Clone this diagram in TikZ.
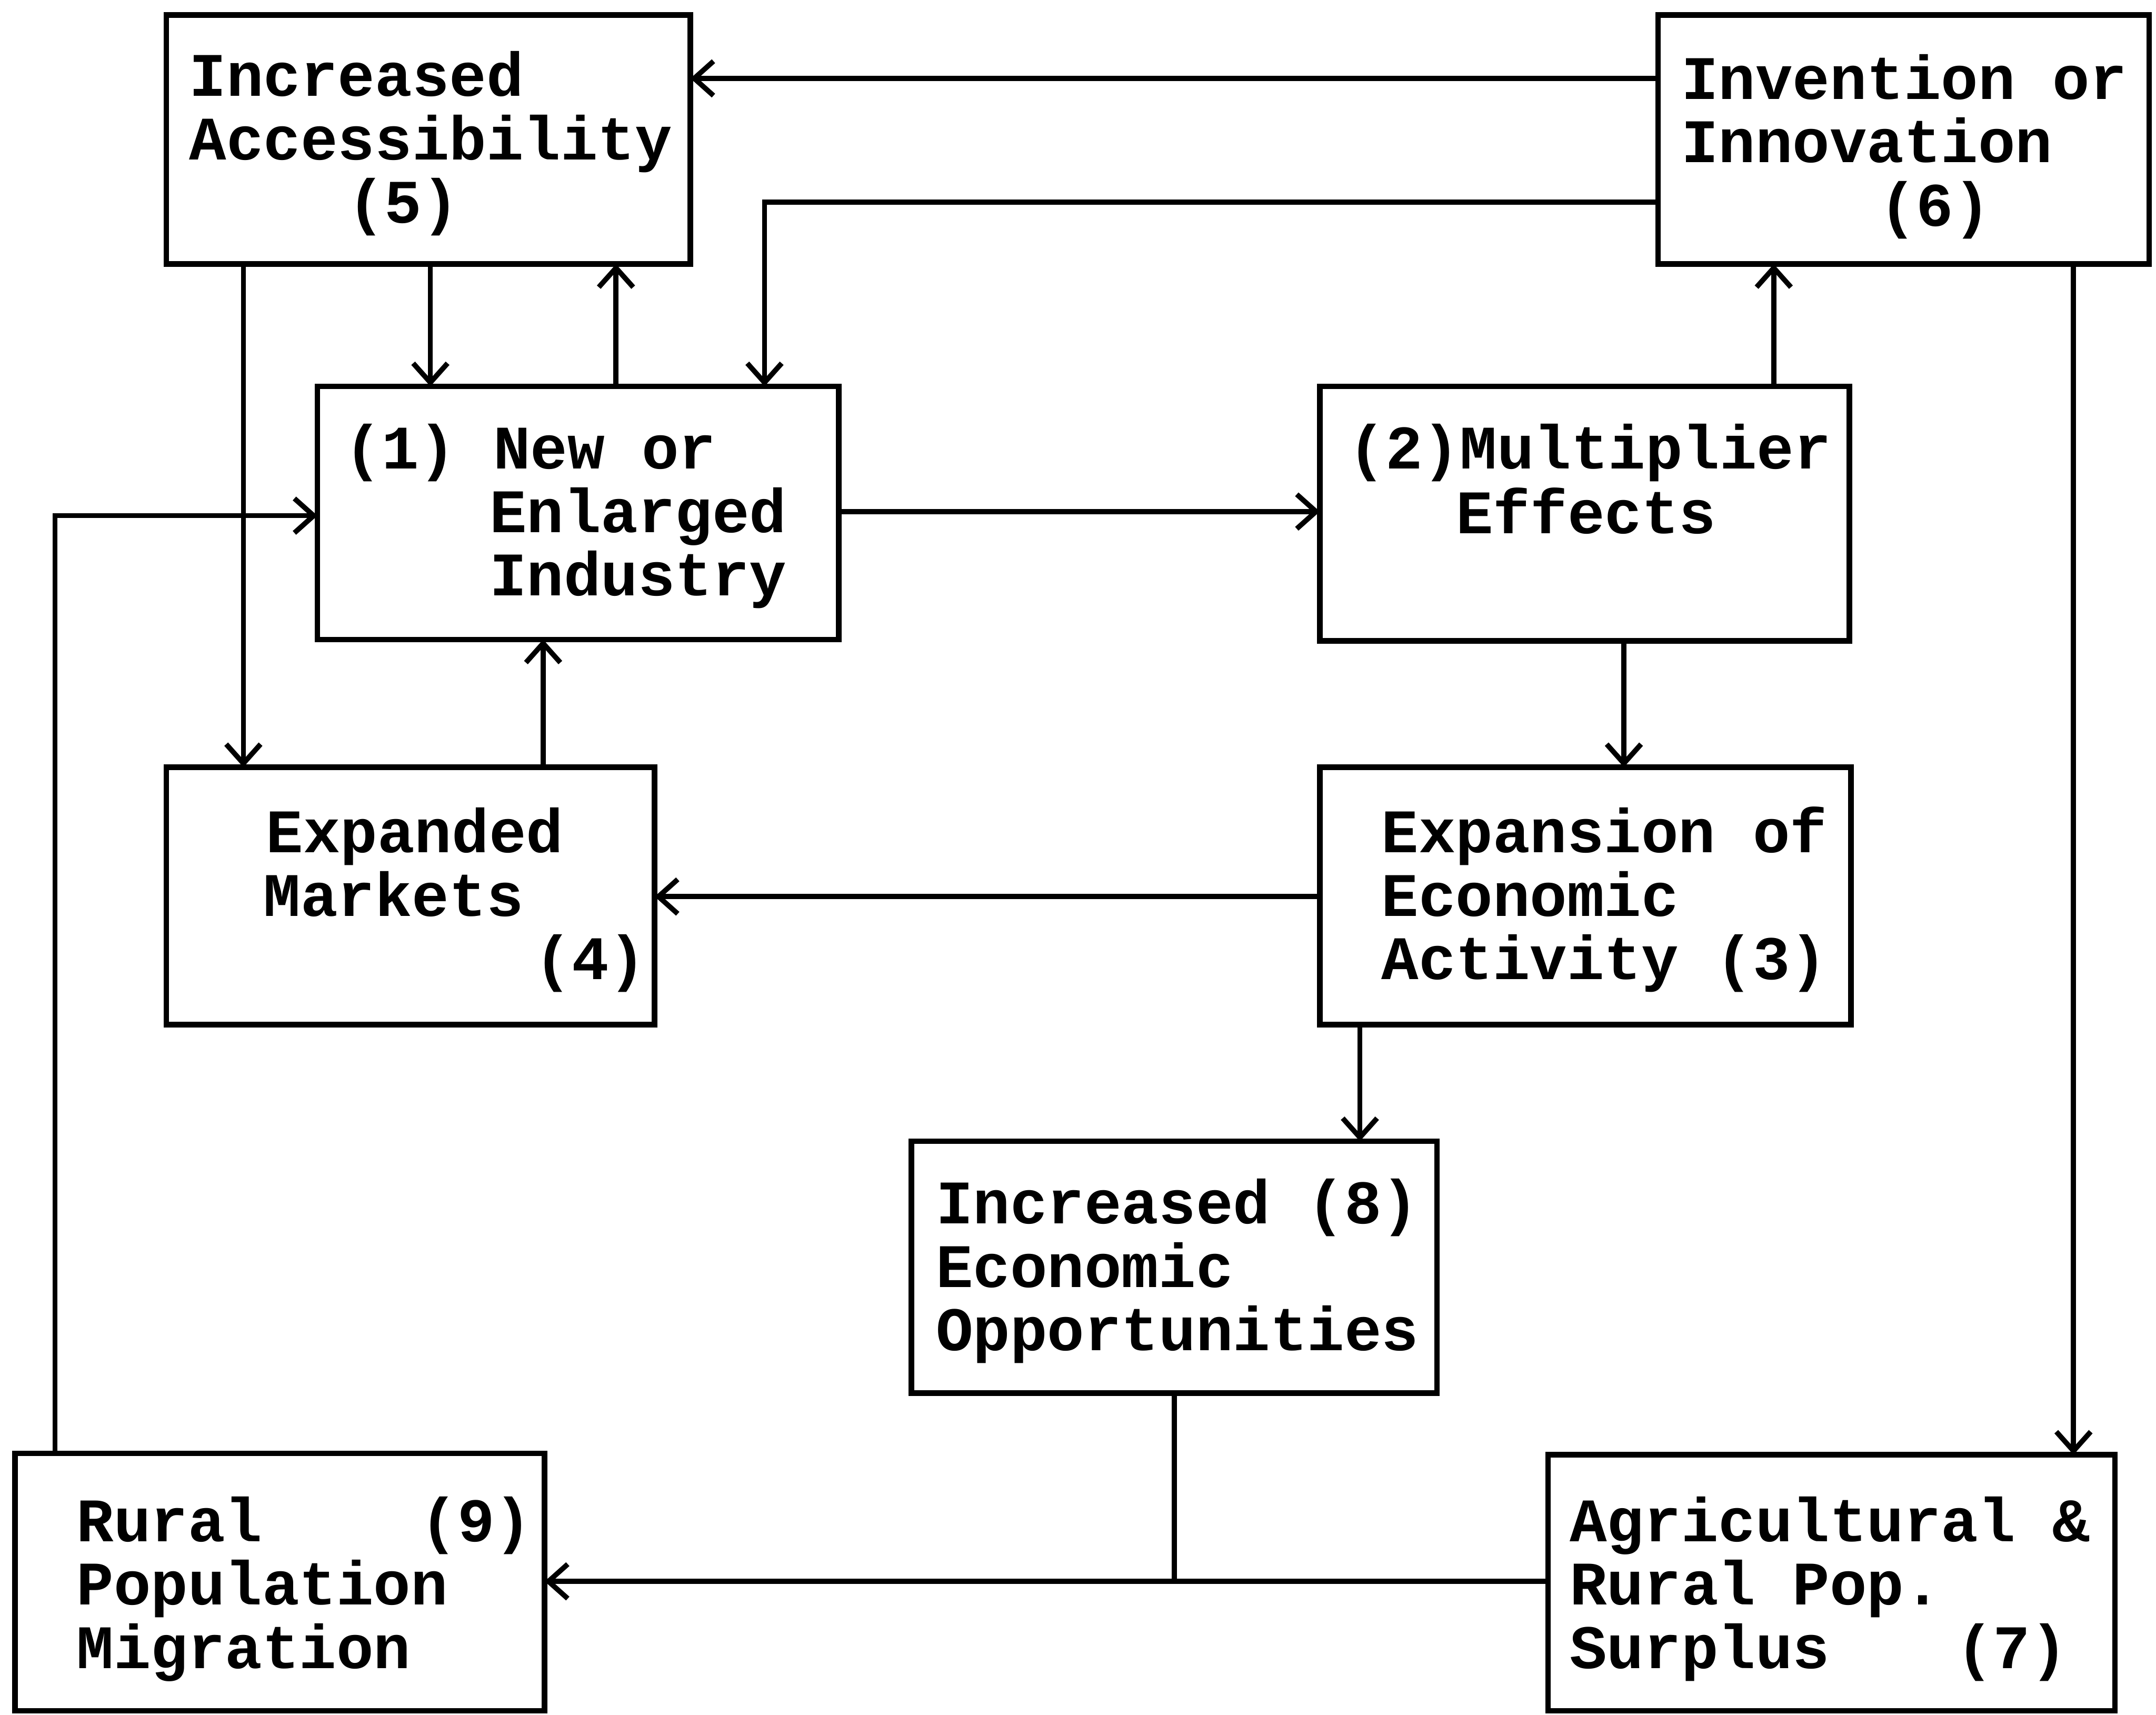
\documentclass[tikz,border=0pt]{standalone}
\usepackage{fontspec}
\newfontfamily\boxfont{Liberation Mono}
\usetikzlibrary{arrows.meta}
% horizontal gap measured in monospace character widths
\newcommand\gap[1]{\hspace*{#1\dimexpr0.6em\relax}}
\newcommand\lines[1]{\begin{tabular}[t]{@{}l@{}}#1\end{tabular}}
\tikzset{
  box/.style={draw, line width=1.15pt, inner sep=0pt, outer sep=0pt},
  txt/.style={anchor=base west, inner sep=0pt,
    font=\boxfont\bfseries\fontsize{12.8pt}{12.8pt}\selectfont},
  arr/.style={line width=1.05pt,
    -{Straight Barb[length=0.14cm, width=0.25cm, line width=1.05pt]}},
  link/.style={line width=1.05pt}
}
\begin{document}
\begin{tikzpicture}[x=0.01cm, y=-0.01cm]
\useasboundingbox (0,0) rectangle (1568,1247);

% boxes
\node[box, minimum width=3.81cm, minimum height=1.81cm] (b5) at (311.5,101.5) {};
\node[box, minimum width=3.57cm, minimum height=1.81cm] (b6) at (1384.5,101.5) {};
\node[box, minimum width=3.79cm, minimum height=1.84cm] (b1) at (420.5,373) {};
\node[box, minimum width=3.85cm, minimum height=1.85cm] (b2) at (1152.5,373.5) {};
\node[box, minimum width=3.55cm, minimum height=1.87cm] (b4) at (298.5,651.5) {};
\node[box, minimum width=3.86cm, minimum height=1.87cm] (b3) at (1153,651.5) {};
\node[box, minimum width=3.82cm, minimum height=1.83cm] (b8) at (854,921.5) {};
\node[box, minimum width=3.85cm, minimum height=1.87cm] (b9) at (203.5,1150.5) {};
\node[box, minimum width=4.12cm, minimum height=1.86cm] (b7) at (1332,1151) {};

% box texts
\node[txt] (t5) at (137,70) {\lines{Increased\\Accessibility\\\gap{4.26}(5)}};
\node[txt] (t6) at (1222,72) {\lines{Invention or\\Innovation\\\gap{5.33}(6)}};
\node[txt] (t1) at (250,341) {\lines{(1) New or\\\gap{3.9}Enlarged\\\gap{3.9}Industry}};
\node[txt] (t2) at (980,341) {\lines{(2)Multiplier\\\gap{2.9}Effects}};
\node[txt] (t4) at (191,620) {\lines{\gap{0.07}Expanded\\Markets\\\gap{7.3}(4)}};
\node[txt] (t3) at (1004,620) {\lines{Expansion of\\Economic\\Activity (3)}};
\node[txt] (t8) at (680,890) {\lines{Increased (8)\\Economic\\Opportunities}};
\node[txt] (t9) at (55,1121) {\lines{Rural\gap{4.26}(9)\\Population\\Migration}};
\node[txt] (t7) at (1141,1121) {\lines{Agricultural \&\\Rural Pop.\\Surplus\gap{3.4}(7)}};

% connectors
\draw[arr] (b6.west |- 0,57) -- (b5.east |- 0,57);
\draw[arr] (b6.west |- 0,147) -| (b1.north -| 556,0);
\draw[arr] (b5.south -| 313,0) -- (b1.north -| 313,0);
\draw[arr] (b1.north -| 448,0) -- (b5.south -| 448,0);
\draw[arr] (b5.south -| 177,0) -- (b4.north -| 177,0);
\draw[arr] (b9.north -| 40,0) |- (b1.west |- 0,375);
\draw[arr] (b4.north -| 395,0) -- (b1.south -| 395,0);
\draw[arr] (b1.east |- 0,372) -- (b2.west |- 0,372);
\draw[arr] (b2.north -| 1290,0) -- (b6.south -| 1290,0);
\draw[arr] (b2.south -| 1181,0) -- (b3.north -| 1181,0);
\draw[arr] (b3.west |- 0,652) -- (b4.east |- 0,652);
\draw[arr] (b3.south -| 989,0) -- (b8.north -| 989,0);
\draw[arr] (b6.south -| 1508,0) -- (b7.north -| 1508,0);
\draw[arr] (b7.west |- 0,1150) -- (b9.east |- 0,1150);
\coordinate (join) at (b8.south |- 0,1150);
\draw[link] (b8.south) -- (join);
\end{tikzpicture}
\end{document}
